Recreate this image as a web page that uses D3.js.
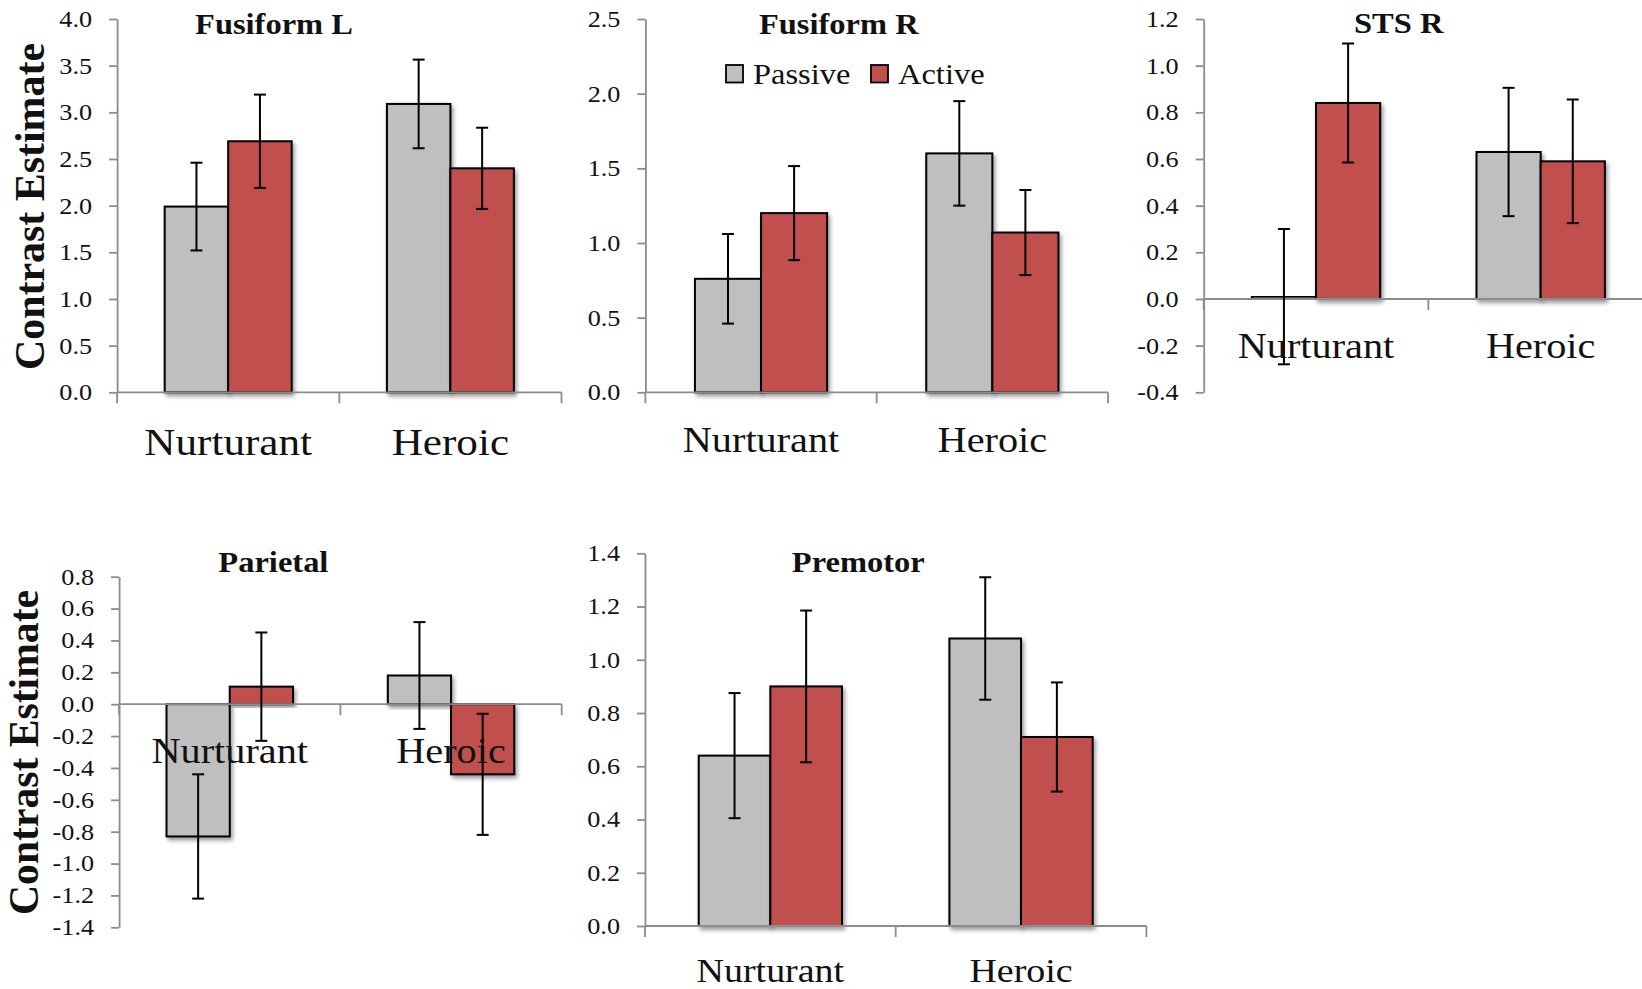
<!DOCTYPE html>
<html>
<head>
<meta charset="utf-8">
<script src="https://cdn.jsdelivr.net/npm/d3@7"></script>
<style>
  html, body { margin: 0; padding: 0; background: #ffffff; }
  svg { display: block; }
</style>
</head>
<body>
<svg id="chart" width="1642" height="989"></svg>
<script>
// ---- data -------------------------------------------------------------
const regions = ["Fusiform L", "Fusiform R", "STS R", "Parietal", "Premotor"];
const categories = ["Nurturant", "Heroic"];
const conditions = ["Passive", "Active"];

// contrast estimates per region, ordered [Nurturant, Heroic]
const passiveMean = [[1.99, 3.09], [0.76, 1.60], [0.01, 0.63], [-0.83, 0.18], [0.64, 1.08]];
const activeMean  = [[2.69, 2.40], [1.20, 1.07], [0.84, 0.59], [0.11, -0.44], [0.90, 0.71]];
// error bar half-lengths
const passiveErr  = [[0.47, 0.475], [0.30, 0.35], [0.29, 0.275], [0.39, 0.335], [0.235, 0.23]];
const activeErr   = [[0.50, 0.435], [0.315, 0.285], [0.255, 0.265], [0.34, 0.38], [0.285, 0.205]];

// y-axis tick values per region
const yTicks = [
  [0, 0.5, 1.0, 1.5, 2.0, 2.5, 3.0, 3.5, 4.0],
  [0, 0.5, 1.0, 1.5, 2.0, 2.5],
  [-0.4, -0.2, 0, 0.2, 0.4, 0.6, 0.8, 1.0, 1.2],
  [-1.4, -1.2, -1.0, -0.8, -0.6, -0.4, -0.2, 0, 0.2, 0.4, 0.6, 0.8],
  [0, 0.2, 0.4, 0.6, 0.8, 1.0, 1.2, 1.4]
];
const yAxisTitle = "Contrast Estimate";

// ---- layout -----------------------------------------------------------
const panelLayout = [
  { x0: 117.1, x1: 561.5, top: 19,    bottom: 392.3, titleX: 274,   titleY: 33.5,  catSize: 37.5, catDy: 63,   yTitle: { x: 43.5, y: 206.5, len: 327 } },
  { x0: 645.4, x1: 1108,  top: 19,    bottom: 392.3, titleX: 838.8, titleY: 33.5,  catSize: 35,   catDy: 59.4, legend: { x: 726, y: 65 } },
  { x0: 1203.7,x1: 1653,  top: 19,    bottom: 392.3, titleX: 1398.7,titleY: 32.5,  catSize: 35,   catDy: 59.3 },
  { x0: 119.1, x1: 561.7, top: 576.7, bottom: 927.3, titleX: 273.4, titleY: 572.3, catSize: 35,   catDy: 59.1, yTitle: { x: 38, y: 752.5, len: 325 } },
  { x0: 645,   x1: 1146.4,top: 553.3, bottom: 926,   titleX: 858.3, titleY: 572.3, catSize: 33,   catDy: 55.7 }
];

const FONT = "'Liberation Serif', 'Times New Roman', serif";
const fills = { Passive: "#bfbfbf", Active: "#c0504d" };
const axisColor = "#8c8c8c";

// widen Times-like glyphs a little so the labels read like the wider serif face
function widen(sel, k) {
  sel.each(function () {
    const w = this.getComputedTextLength();
    this.setAttribute("textLength", w * k);
    this.setAttribute("lengthAdjust", "spacingAndGlyphs");
  });
}

const svg = d3.select("#chart");

const defs = svg.append("defs");
const shadow = defs.append("filter").attr("id", "barShadow")
  .attr("x", "-20%").attr("y", "-20%").attr("width", "140%").attr("height", "140%");
shadow.append("feDropShadow")
  .attr("dx", 2).attr("dy", 3).attr("stdDeviation", 2.2)
  .attr("flood-color", "#000").attr("flood-opacity", 0.4);

regions.forEach((region, i) => {
  const L = panelLayout[i];
  const ticks = yTicks[i];
  const g = svg.append("g");

  const y = d3.scaleLinear()
    .domain([d3.min(ticks), d3.max(ticks)])
    .range([L.bottom, L.top]);
  const x = d3.scaleBand().domain(categories).range([L.x0, L.x1]).padding(0);
  const xs = d3.scaleBand().domain(conditions).range([0, x.bandwidth()])
    .paddingInner(0).paddingOuter(0.75);

  const rows = [];
  categories.forEach((c, ci) => {
    rows.push({ cat: c, cond: "Passive", v: passiveMean[i][ci], e: passiveErr[i][ci] });
    rows.push({ cat: c, cond: "Active",  v: activeMean[i][ci],  e: activeErr[i][ci] });
  });

  // y axis
  const yAxis = d3.axisLeft(y)
    .tickValues(ticks)
    .tickSize(8)
    .tickSizeOuter(0)
    .tickPadding(17)
    .tickFormat(d => d.toFixed(1));
  const ya = g.append("g").attr("transform", `translate(${L.x0},0)`).call(yAxis);
  ya.select(".domain").attr("stroke", axisColor).attr("stroke-width", 1.8);
  ya.selectAll(".tick line").attr("stroke", axisColor).attr("stroke-width", 1.8);
  ya.selectAll(".tick text")
    .attr("font-family", FONT).attr("font-size", 23).attr("fill", "#111")
    .call(widen, 1.14);

  // bars
  g.append("g").selectAll("rect").data(rows).join("rect")
    .attr("x", d => x(d.cat) + xs(d.cond))
    .attr("width", xs.bandwidth())
    .attr("y", d => y(Math.max(0, d.v)))
    .attr("height", d => Math.abs(y(d.v) - y(0)))
    .attr("fill", d => fills[d.cond])
    .attr("stroke", "#000").attr("stroke-width", 2)
    .attr("filter", "url(#barShadow)");

  // category axis along zero, with ticks at band edges
  const y0 = y(0);
  const edges = [x.range()[0], x(categories[1]), x.range()[1]];
  g.append("line")
    .attr("x1", L.x0).attr("x2", L.x1).attr("y1", y0).attr("y2", y0)
    .attr("stroke", axisColor).attr("stroke-width", 1.8);
  g.append("g").selectAll("line").data(edges).join("line")
    .attr("x1", d => d).attr("x2", d => d)
    .attr("y1", y0).attr("y2", y0 + 11)
    .attr("stroke", axisColor).attr("stroke-width", 1.8);

  // error bars
  const eb = g.append("g").attr("stroke", "#000").attr("stroke-width", 2);
  rows.forEach(d => {
    const cx = x(d.cat) + xs(d.cond) + xs.bandwidth() / 2;
    const yHi = y(d.v + d.e), yLo = y(d.v - d.e);
    eb.append("line").attr("x1", cx).attr("x2", cx).attr("y1", yHi).attr("y2", yLo);
    eb.append("line").attr("x1", cx - 6).attr("x2", cx + 6).attr("y1", yHi).attr("y2", yHi);
    eb.append("line").attr("x1", cx - 6).attr("x2", cx + 6).attr("y1", yLo).attr("y2", yLo);
  });

  // category labels
  g.append("g").selectAll("text").data(categories).join("text")
    .attr("x", d => x(d) + x.bandwidth() / 2)
    .attr("y", y0 + L.catDy)
    .attr("text-anchor", "middle")
    .attr("font-family", FONT).attr("font-size", L.catSize).attr("fill", "#111")
    .text(d => d)
    .call(widen, 1.15);

  // panel title
  g.append("text")
    .attr("x", L.titleX).attr("y", L.titleY)
    .attr("text-anchor", "middle")
    .attr("font-family", FONT).attr("font-weight", "bold").attr("font-size", 29)
    .attr("fill", "#111")
    .text(region)
    .call(widen, 1.12);

  // y-axis title
  if (L.yTitle) {
    g.append("text")
      .attr("transform", `translate(${L.yTitle.x},${L.yTitle.y}) rotate(-90)`)
      .attr("text-anchor", "middle")
      .attr("font-family", FONT).attr("font-weight", "bold").attr("font-size", 42)
      .attr("fill", "#111")
      .attr("textLength", L.yTitle.len)
      .attr("lengthAdjust", "spacingAndGlyphs")
      .text(yAxisTitle);
  }

  // legend
  if (L.legend) {
    const lg = g.append("g").attr("transform", `translate(${L.legend.x},${L.legend.y})`);
    const offsets = [0, 145];
    conditions.forEach((c, k) => {
      const item = lg.append("g").attr("transform", `translate(${offsets[k]},0)`);
      item.append("rect").attr("x", 0).attr("y", 0).attr("width", 17).attr("height", 17.5)
        .attr("fill", fills[c]).attr("stroke", "#000").attr("stroke-width", 1.8);
      item.append("text").attr("x", 27).attr("y", 18.5)
        .attr("font-family", FONT).attr("font-size", 29).attr("fill", "#111")
        .text(c)
        .call(widen, 1.12);
    });
  }
});
</script>
</body>
</html>
